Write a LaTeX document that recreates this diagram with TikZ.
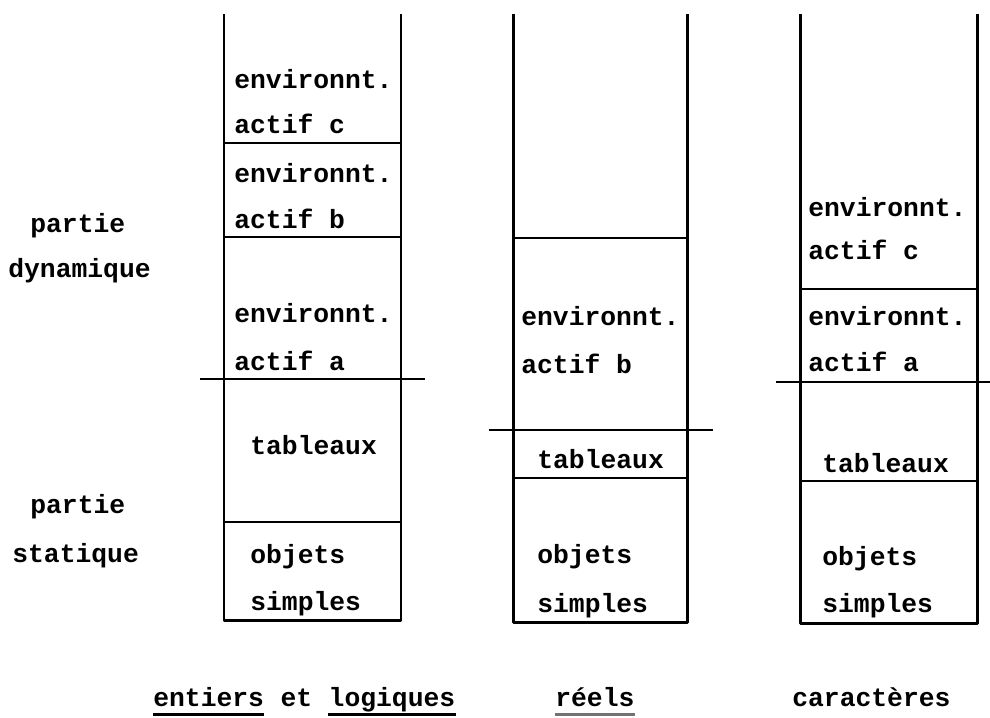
\documentclass[tikz,border=0pt]{standalone}
\usepackage{fontspec}
\setmonofont{Liberation Mono}
\usetikzlibrary{positioning}

\begin{document}
\begin{tikzpicture}[x=0.02cm,y=-0.02cm,
    lbl/.style={anchor=base west,inner sep=0pt,font=\fontsize{15}{18}\selectfont\ttfamily\bfseries},
    wall/.style={line width=1.7pt,line join=round},
    sep/.style={line width=1pt},
    bar/.style={line width=1.4pt},
    uline/.style={line width=1.4pt}]
    \useasboundingbox (0,0) rectangle (990,717);
    % colonnes
    \foreach \l/\r/\b in {224/401/620,513/687/622,800/977/623}
        \draw[wall] (\l,14) -- (\l,\b) -- (\r,\b) -- (\r,14);
    % separations
    \foreach \l/\r/\y in {224/401/143,224/401/237,224/401/522,513/687/238,513/687/478,800/977/289,800/977/481}
        \draw[sep] (\l,\y) -- (\r,\y);
    % limites partie statique / partie dynamique
    \foreach \l/\r/\y in {200/425/379,489/713/430,776/990/382}
        \draw[bar] (\l,\y) -- (\r,\y);
    % contenu des piles
    \foreach \txt/\x/\y [count=\i] in {environnt./234/88,actif c/234/133,environnt./234/182,actif b/234/228,
        environnt./234/322,actif a/234/370,tableaux/250/454,objets/250/563,simples/250/610,
        environnt./521/325,actif b/521/373,tableaux/537/468,objets/537/563,simples/537/612,
        environnt./808/216,actif c/808/259,environnt./808/325,actif a/808/371,tableaux/822/472,objets/822/565,simples/822/612}
        \node[lbl] (t\i) at (\x,\y) {\txt};
    % parties
    \node[lbl] (pdyn) at (30,232) {partie};
    \node[lbl] (dyn) at (8,277) {dynamique};
    \node[lbl] (pstat) at (30,513) {partie};
    \node[lbl] (stat) at (12,562) {statique};
    % types
    \node[lbl] (ent) at (153,706) {entiers};
    \node[lbl, base right=0.316cm of ent] (et) {et};
    \node[lbl, base right=0.316cm of et] (log) {logiques};
    \node[lbl] (reel) at (555,706) {réels};
    \node[lbl] (car) at (792,706) {caractères};
    \foreach \w in {ent,log}
        \draw[uline] ([yshift=-0.17cm]\w.base west) -- ([yshift=-0.17cm]\w.base east);
    \draw[uline,black!55] ([yshift=-0.17cm]reel.base west) -- ([yshift=-0.17cm]reel.base east);
\end{tikzpicture}
\end{document}
